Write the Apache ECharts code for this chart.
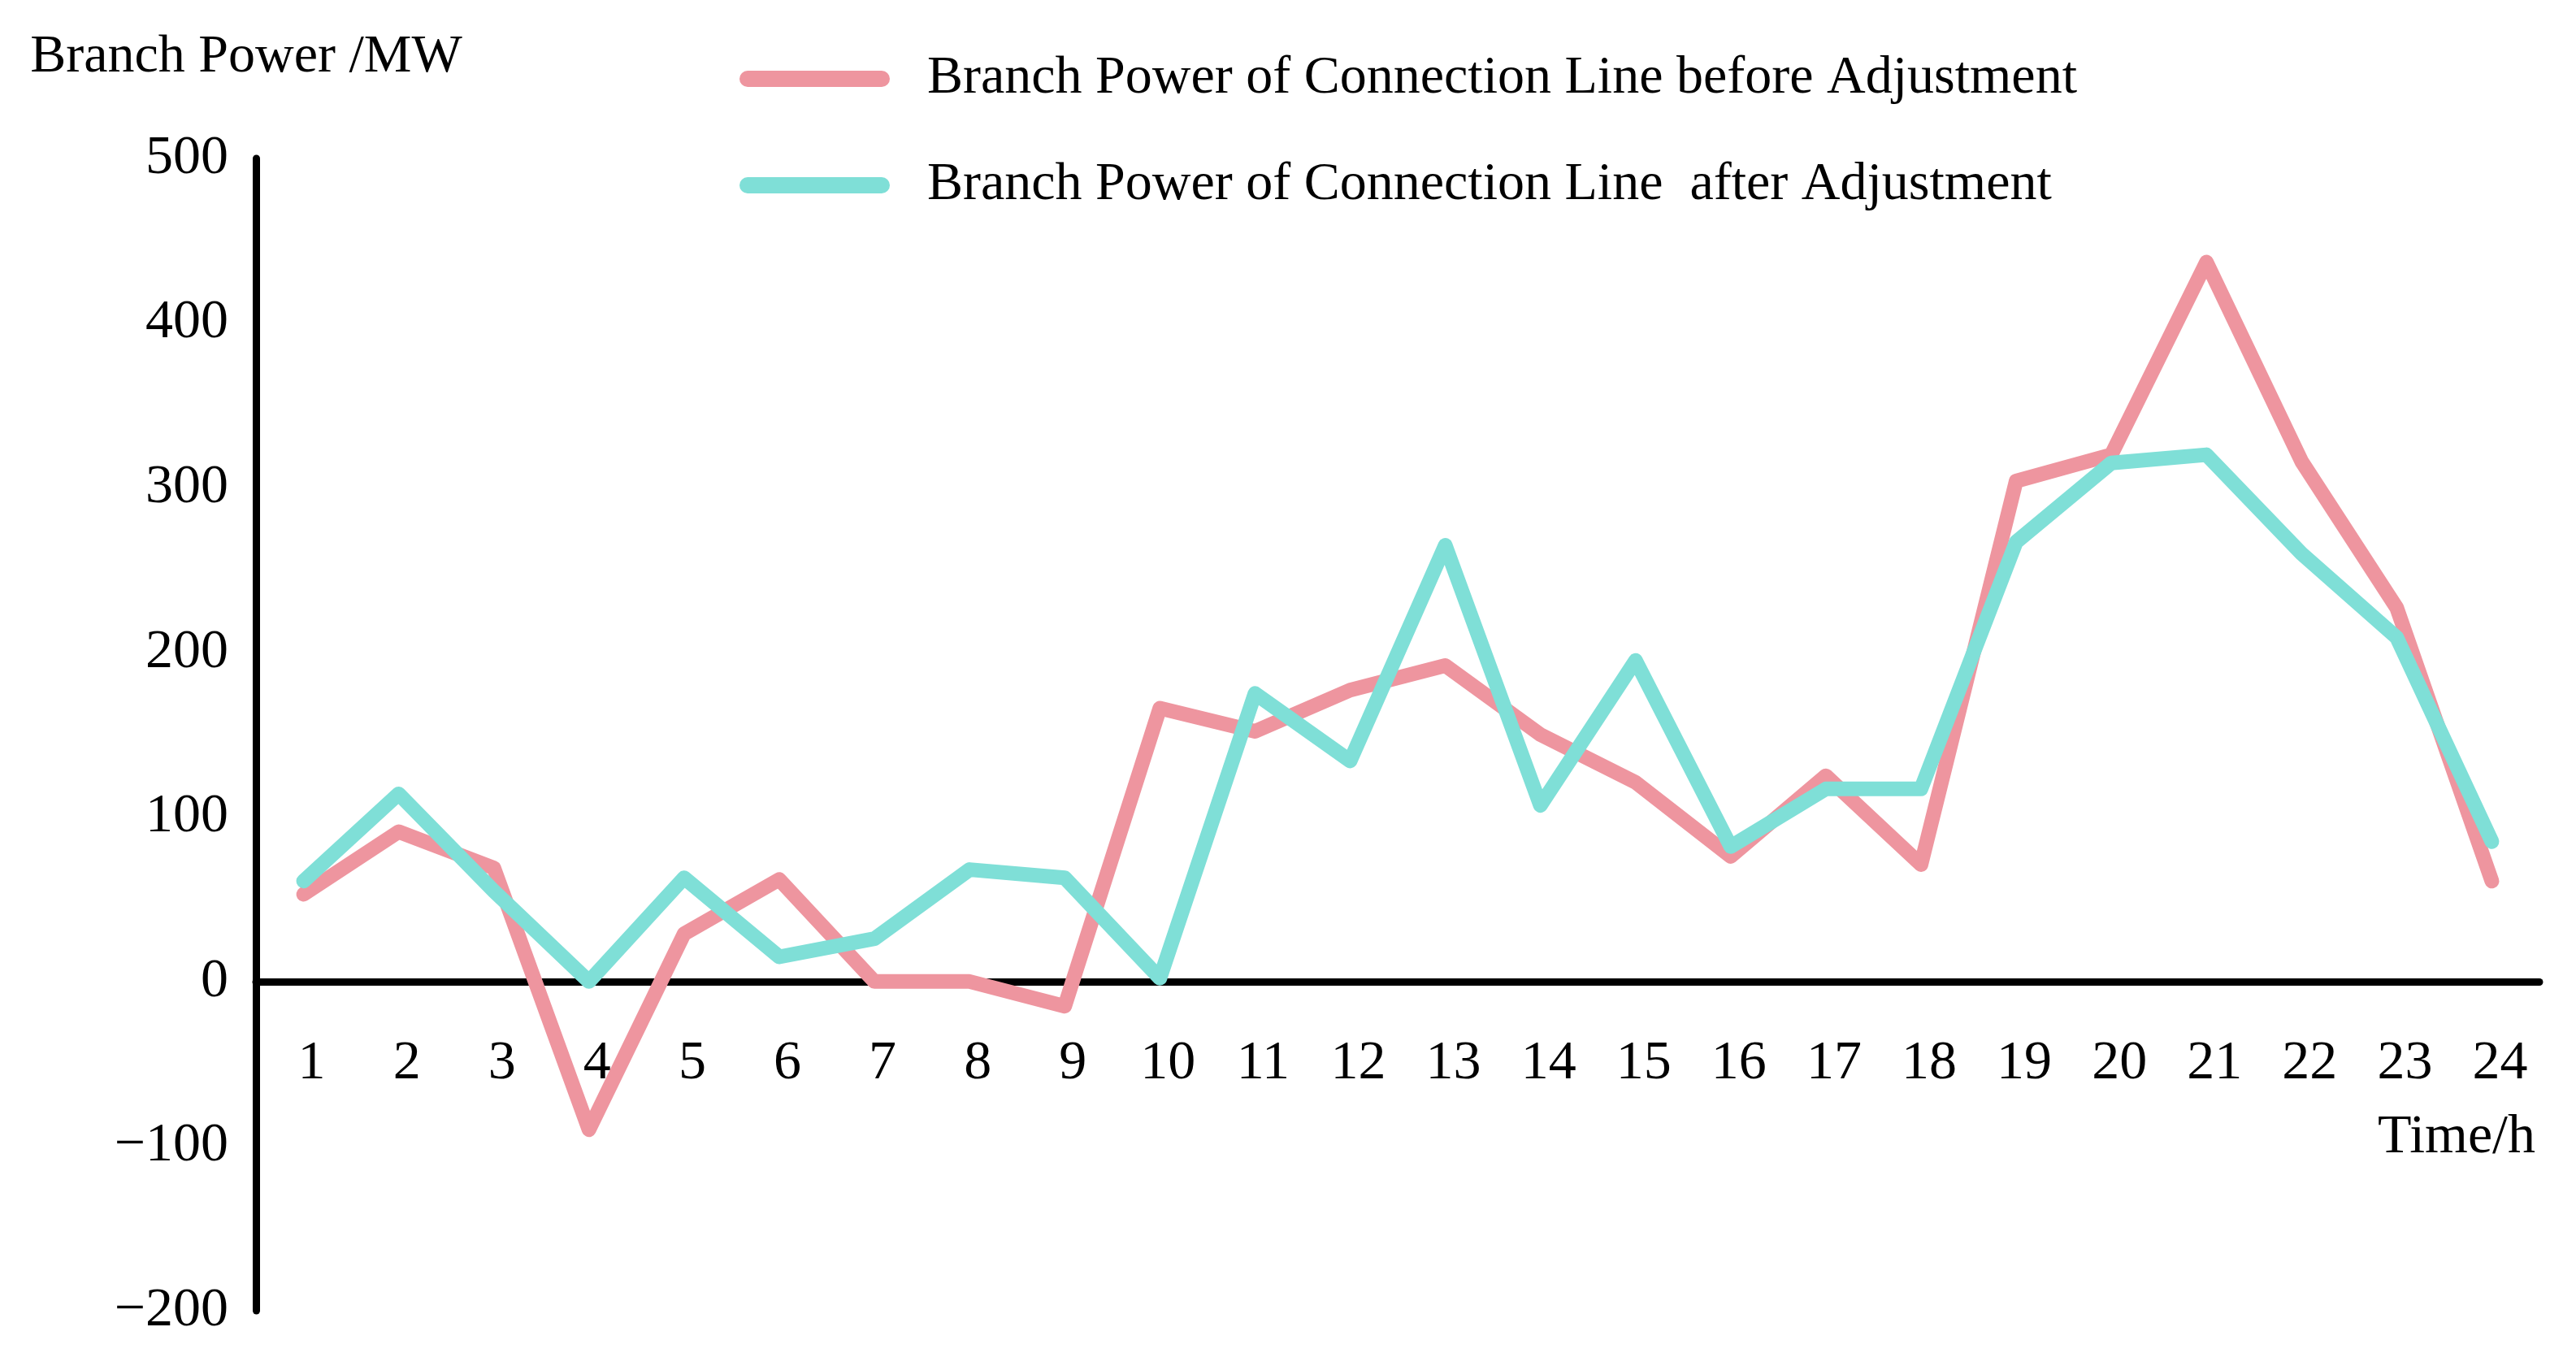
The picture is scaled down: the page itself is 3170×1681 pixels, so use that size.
<!DOCTYPE html>
<html>
<head>
<meta charset="utf-8">
<title>Branch Power of Connection Line</title>
<script src="https://cdn.jsdelivr.net/npm/echarts@6/dist/echarts.min.js"></script>
<style>
    html, body { margin: 0; padding: 0; background: #fff; }
    #main { width: 3170px; height: 1681px; }
</style>
</head>
<body>
<div id="main"></div>
<script>
// hours 1..24
var hours = ['1', '2', '3', '4', '5', '6', '7', '8', '9', '10', '11', '12',
    '13', '14', '15', '16', '17', '18', '19', '20', '21', '22', '23', '24'];

// branch power, MW
var beforeAdj = [53, 91, 69, -90, 29, 62, 0, 0, -15, 166, 152, 177,
    192, 150, 121, 76, 125, 71, 304, 320, 437, 316, 227, 61];
var afterAdj = [61, 114, 55, 0, 63, 15, 26, 68, 63, 2, 175, 134,
    265, 107, 195, 82, 117, 117, 267, 315, 320, 260, 209, 85];

var seriesNames = [
    'Branch Power of Connection Line before Adjustment',
    'Branch Power of Connection Line  after Adjustment'
];

var yTicks = { min: -200, max: 500, interval: 100 };

var font = 'Liberation Serif';
var pink = '#EE959F';
var teal = '#7FDFD7';

// grid box (px)
var gridTop = 195, gridBottom = 68;
var plotH = 1681 - gridTop - gridBottom;
// lift the category axis up to the zero line
var zeroOffset = plotH * (0 - yTicks.min) / (yTicks.max - yTicks.min);

var myChart = echarts.init(document.getElementById('main'));

var option = {
    animation: false,
    backgroundColor: '#fff',
    textStyle: { fontFamily: font, color: '#000' },
    legend: {
        orient: 'vertical',
        left: 905,
        top: 59,
        itemWidth: 185,
        itemHeight: 20,
        itemGap: 65,
        icon: 'path://M10,0H175A10,10,0,0,1,175,20H10A10,10,0,0,1,10,0Z',
        itemStyle: { borderWidth: 0 },
        textStyle: {
            fontFamily: font,
            fontSize: 66,
            color: '#000',
            padding: [0, 0, 0, 41]
        },
        data: seriesNames
    },
    grid: {
        left: 315,
        right: 45,
        top: gridTop,
        bottom: gridBottom,
        containLabel: false,
        outerBoundsMode: 'none'
    },
    xAxis: {
        type: 'category',
        data: hours,
        boundaryGap: true,
        offset: -zeroOffset,
        name: 'Time/h',
        nameLocation: 'end',
        nameGap: -5,
        nameTextStyle: {
            fontFamily: font,
            fontSize: 68,
            color: '#000',
            align: 'right',
            verticalAlign: 'top',
            padding: [158, 0, 0, 0]
        },
        axisLine: {
            show: true,
            onZero: false,
            lineStyle: { color: '#000', width: 9, cap: 'round' }
        },
        axisTick: { show: false },
        axisLabel: {
            fontFamily: font,
            fontSize: 68,
            color: '#000',
            margin: 67,
            padding: [0, 0, 0, 20]
        },
        splitLine: { show: false }
    },
    yAxis: {
        type: 'value',
        min: yTicks.min,
        max: yTicks.max,
        interval: yTicks.interval,
        name: 'Branch Power /MW',
        nameLocation: 'end',
        nameGap: 124,
        nameTextStyle: {
            fontFamily: font,
            fontSize: 66,
            color: '#000',
            align: 'center',
            verticalAlign: 'middle',
            padding: [0, 24, 0, 0]
        },
        axisLine: {
            show: true,
            lineStyle: { color: '#000', width: 9, cap: 'round' }
        },
        axisTick: { show: false },
        axisLabel: {
            fontFamily: font,
            fontSize: 68,
            color: '#000',
            margin: 34,
            formatter: function (v) {
                return String(v).replace('-', '\u2212');
            }
        },
        splitLine: { show: false }
    },
    series: [
        {
            name: seriesNames[0],
            type: 'line',
            data: beforeAdj,
            symbol: 'none',
            color: pink,
            lineStyle: { color: pink, width: 18, cap: 'round', join: 'round' }
        },
        {
            name: seriesNames[1],
            type: 'line',
            data: afterAdj,
            symbol: 'none',
            color: teal,
            lineStyle: { color: teal, width: 18, cap: 'round', join: 'round' }
        }
    ]
};

myChart.setOption(option);

window.onresize = function () {
    myChart.resize();
};
</script>
</body>
</html>
